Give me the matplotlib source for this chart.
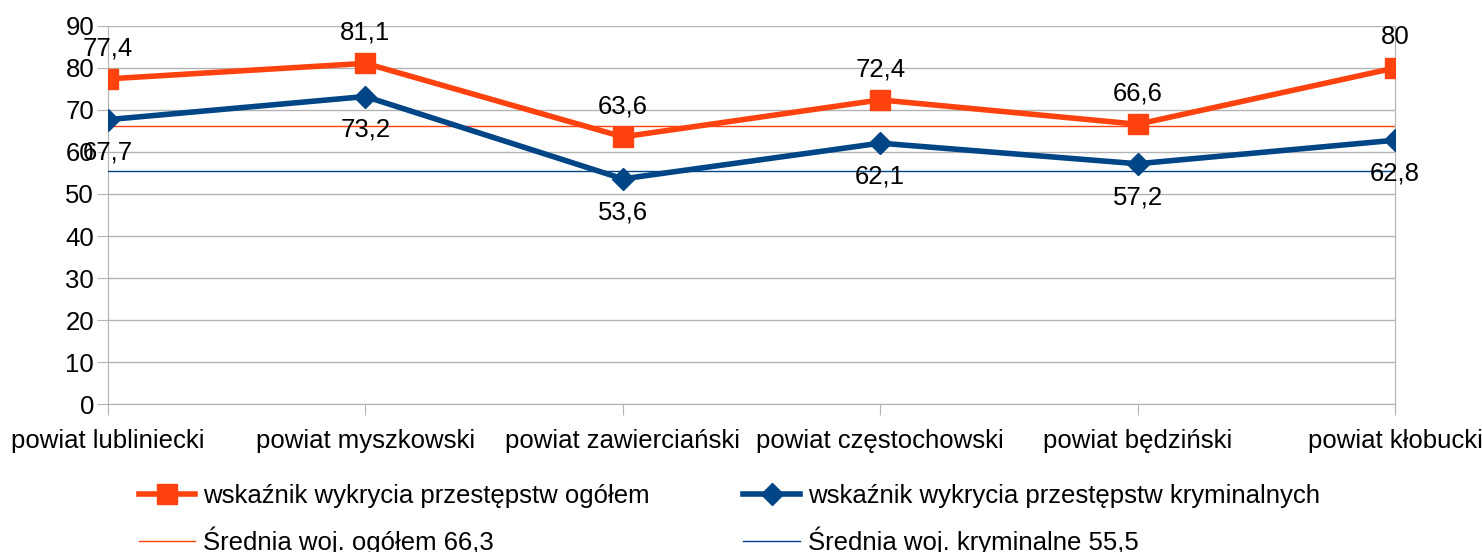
import matplotlib.pyplot as plt

plt.rcParams['font.family'] = ['Liberation Sans', 'DejaVu Sans']

powiaty = ["powiat lubliniecki", "powiat myszkowski", "powiat zawierciański",
           "powiat częstochowski", "powiat będziński", "powiat kłobucki"]
ogolem = [77.4, 81.1, 63.6, 72.4, 66.6, 80]
kryminalne = [67.7, 73.2, 53.6, 62.1, 57.2, 62.8]
srednia_ogolem = 66.3
srednia_kryminalne = 55.5

def fmt(v):
    return ("%g" % v).replace(".", ",")

fs = 18.5
fig = plt.figure(figsize=(14.82, 5.52), dpi=100)
ax = fig.add_axes([0.0729, 0.268, 0.8684, 0.685])

x = list(range(len(powiaty)))
pomarancz = "#ff420e"
niebieski = "#004586"
szary = "#b3b3b3"

l1, = ax.plot(x, ogolem, color=pomarancz, lw=4, marker="s", ms=14,
              label="wskaźnik wykrycia przestępstw ogółem", zorder=4)
l2, = ax.plot(x, kryminalne, color=niebieski, lw=4, marker="D", ms=11,
              label="wskaźnik wykrycia przestępstw kryminalnych", zorder=4)
l3 = ax.axhline(srednia_ogolem, color=pomarancz, lw=1,
                label="Średnia woj. ogółem 66,3", zorder=3)
l4 = ax.axhline(srednia_kryminalne, color=niebieski, lw=1,
                label="Średnia woj. kryminalne 55,5", zorder=3)

for i, v in enumerate(ogolem):
    ax.annotate(fmt(v), (i, v), xytext=(0, 22), textcoords="offset points",
                ha="center", va="center", fontsize=fs, zorder=5)
for i, v in enumerate(kryminalne):
    ax.annotate(fmt(v), (i, v), xytext=(0, -24), textcoords="offset points",
                ha="center", va="center", fontsize=fs, zorder=5)

ax.set_xlim(0, len(powiaty) - 1)
ax.set_ylim(0, 90)
ax.set_yticks(range(0, 91, 10))
ax.set_xticks(x)
ax.set_xticklabels(powiaty, fontsize=fs)
ax.tick_params(axis="y", labelsize=fs, length=8, color=szary, pad=2)
ax.tick_params(axis="x", length=8, color=szary, pad=10, direction="out")
ax.grid(axis="y", color=szary, lw=1)
ax.spines["top"].set_visible(False)
for s in ["left", "bottom", "right"]:
    ax.spines[s].set_color(szary)
ax.set_axisbelow(True)
for lab in ax.get_xticklabels():
    lab.set_clip_on(False)

fig.legend(handles=[l1, l3, l2, l4], ncol=2, loc="lower left",
           bbox_to_anchor=(0.078, -0.047), frameon=False, fontsize=fs,
           handlelength=2.2, columnspacing=3.65, labelspacing=0.7,
           handletextpad=0.3)

fig.savefig("out.png", dpi=100)
